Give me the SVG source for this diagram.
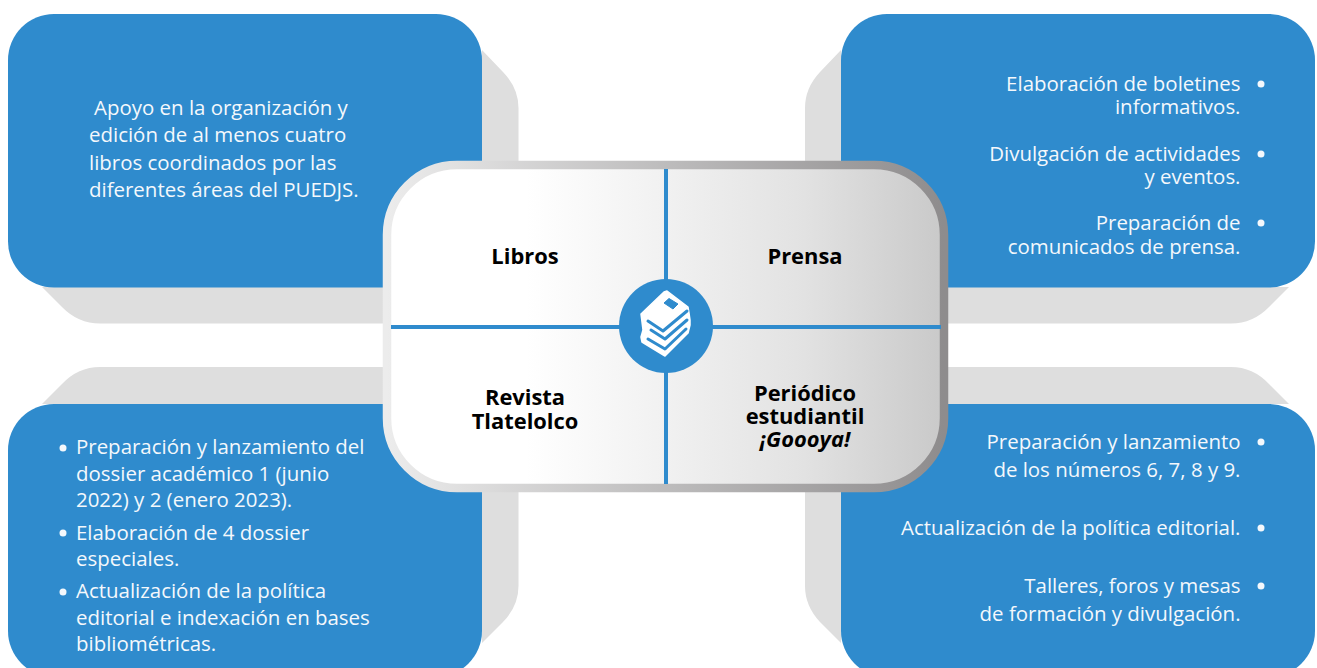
<svg xmlns="http://www.w3.org/2000/svg" width="1317" height="668" viewBox="0 0 1317 668">
<style>
.sh{fill:#dedede}
.bx{fill:#2f8bcd}
.t{font-family:"Open Sans","Noto Sans",sans-serif;font-size:20.45px;fill:#f4f8fc}
.e{text-anchor:end}
.h{font-family:"Open Sans","Noto Sans",sans-serif;font-size:21.9px;font-weight:700;fill:#000;text-anchor:middle}
.d{fill:#f4f8fc}
.l{stroke:#2f8bcd;stroke-width:4;fill:none}
.b{stroke:#2f8bcd;stroke-width:3;fill:none;stroke-linejoin:round;stroke-linecap:round}
</style>
<defs>
<linearGradient id="gs" x1="0" x2="1" y1="0" y2="0"><stop offset="0" stop-color="#ececec"/><stop offset="1" stop-color="#8e8c8d"/></linearGradient>
<linearGradient id="gf" x1="0" x2="1" y1="0" y2="0"><stop offset="0" stop-color="#fff"/><stop offset=".25" stop-color="#fff"/><stop offset=".5" stop-color="#f1f1f1"/><stop offset=".75" stop-color="#e2e2e2"/><stop offset="1" stop-color="#c9c9c9"/></linearGradient>
</defs>
<g id="shadows">
<path class="sh" d="M42,287L62,307Q78,323.500 100,323.500H400V200H518.500V108Q518.500,88 503,72L482,50V287Z"/>
<path class="sh" d="M1289,287L1269,307Q1253,323.500 1231,323.500H931V200H805V108Q805,88 820,72L841,50V287Z"/>
<path class="sh" d="M42,404L62,384Q78,367 100,367H400V480H518.500V586Q518.500,606 503,622L482,643V404Z"/>
<path class="sh" d="M1289,404L1269,384Q1253,367 1231,367H931V480H805V586Q805,606 820,622L841,643V404Z"/>
</g>
<g id="box-tl"><rect class="bx" x="8" y="14" width="474" height="273.500" rx="46"/>
<text class="t" x="94" y="115">Apoyo en la organización y</text>
<text class="t" x="89" y="142">edición de al menos cuatro</text>
<text class="t" x="89" y="170">libros coordinados por las</text>
<text class="t" x="89" y="197">diferentes áreas del PUEDJS.</text></g>
<g id="box-tr"><rect class="bx" x="841" y="14" width="474" height="273.500" rx="46"/>
<text class="t e" x="1240.500" y="91">Elaboración de boletines</text><circle class="d" cx="1261" cy="84" r="3.500"/>
<text class="t e" x="1240.500" y="114">informativos.</text>
<text class="t e" x="1240.500" y="161">Divulgación de actividades</text><circle class="d" cx="1261" cy="154" r="3.500"/>
<text class="t e" x="1240.500" y="184">y eventos.</text>
<text class="t e" x="1240.500" y="230">Preparación de</text><circle class="d" cx="1261" cy="223" r="3.500"/>
<text class="t e" x="1240.500" y="254">comunicados de prensa.</text></g>
<g id="box-bl"><rect class="bx" x="8" y="404" width="474" height="273" rx="46"/>
<circle class="d" cx="63" cy="448" r="3.500"/>
<text class="t" x="76" y="454">Preparación y lanzamiento del</text>
<text class="t" x="76" y="481">dossier académico 1 (junio</text>
<text class="t" x="76" y="507">2022) y 2 (enero 2023).</text>
<circle class="d" cx="63" cy="533" r="3.500"/>
<text class="t" x="76" y="540">Elaboración de 4 dossier</text>
<text class="t" x="76" y="566">especiales.</text>
<circle class="d" cx="63" cy="592" r="3.500"/>
<text class="t" x="76" y="598">Actualización de la política</text>
<text class="t" x="76" y="625">editorial e indexación en bases</text>
<text class="t" x="76" y="651">bibliométricas.</text></g>
<g id="box-br"><rect class="bx" x="841" y="404" width="474" height="273" rx="46"/>
<text class="t e" x="1240.500" y="449">Preparación y lanzamiento</text><circle class="d" cx="1261" cy="442" r="3.500"/>
<text class="t e" x="1240.500" y="477">de los números 6, 7, 8 y 9.</text>
<text class="t e" x="1240.500" y="535">Actualización de la política editorial.</text><circle class="d" cx="1261" cy="528" r="3.500"/>
<text class="t e" x="1240.500" y="593">Talleres, foros y mesas</text><circle class="d" cx="1261" cy="586" r="3.500"/>
<text class="t e" x="1240.500" y="621">de formación y divulgación.</text></g>
<g id="center">
<rect x="387" y="165" width="557" height="323" rx="70" fill="url(#gf)" stroke="url(#gs)" stroke-width="8.500"/>
<g id="connectors">
<path class="l" d="M666,169V484M391,327H941"/>
</g>
<circle cx="666" cy="326" r="47" fill="#2f8bcd"/>
<g id="icon">
<path d="M667,291L688,307L689,313L690,320L690,325L688,333L665,356L642,342L641,337L643,330L642,322L641,314L664,292Z" fill="#fff" stroke="#fff" stroke-width="1.500" stroke-linejoin="round"/>
<path class="b" d="M648,321L663,331L687,311"/>
<path class="b" d="M651,330L665,339L687,320"/>
<path class="b" d="M648,339L665,349L686,329"/>
<path d="M669,298.500L678,304L673,309L664,303Z" fill="#2f8bcd" stroke="#2f8bcd" stroke-width="1" stroke-linejoin="round"/>
</g>
</g>
<g id="labels">
<text class="h" x="525" y="264">Libros</text>
<text class="h" x="805" y="264">Prensa</text>
<text class="h" x="525" y="405">Revista</text>
<text class="h" x="525" y="428.500">Tlatelolco</text>
<text class="h" x="805" y="400.500">Periódico</text>
<text class="h" x="805" y="424">estudiantil</text>
<text class="h" x="805" y="447" font-style="italic">¡Goooya!</text>
</g>
</svg>
